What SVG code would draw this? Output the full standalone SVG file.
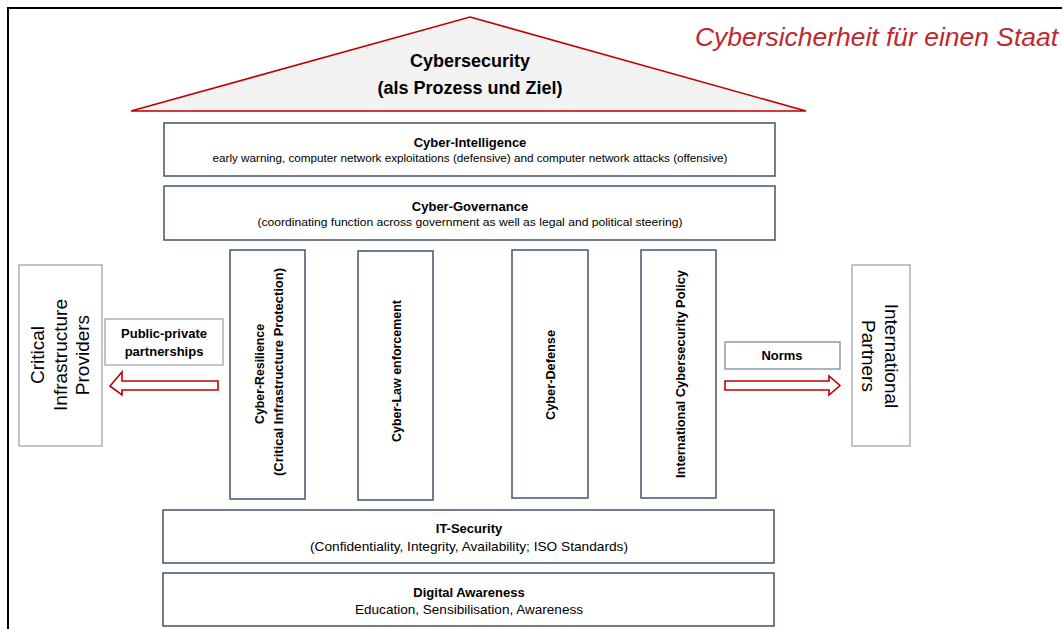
<svg xmlns="http://www.w3.org/2000/svg" width="1062" height="629" viewBox="0 0 1062 629">
<style>
text{font-family:"Liberation Sans",Arial,sans-serif;fill:#000}
.box{fill:#fff;stroke:#44546a;stroke-width:1.5}
.lbox{fill:#fff;stroke:#9ea6b0;stroke-width:1.3}
.h{font-weight:bold;font-size:13px;text-anchor:middle}
.s{font-size:11.5px;text-anchor:middle}
.s13{font-size:13px;text-anchor:middle}
.p{font-weight:bold;font-size:13px;text-anchor:middle}
.big{font-size:19px;text-anchor:middle}
.arrow{fill:#fff;stroke:#c00000;stroke-width:1.6}
</style>
<rect width="1062" height="629" fill="#fff"/>
<path d="M8 629 V8 H1062" fill="none" stroke="#000" stroke-width="2"/>
<text x="695" y="46" font-size="26" font-style="italic" fill="#c0282d" style="fill:#c0282d" textLength="363" lengthAdjust="spacingAndGlyphs">Cybersicherheit für einen Staat</text>

<g id="roof">
<polygon points="470,17 806,111 131,111" fill="#f2f2f2" stroke="#c00000" stroke-width="1.6"/>
<text x="470" y="67" font-size="18" font-weight="bold" text-anchor="middle">Cybersecurity</text>
<text x="470" y="94" font-size="18" font-weight="bold" text-anchor="middle">(als Prozess und Ziel)</text>
</g>

<g id="cyber-intelligence">
<rect class="box" x="164" y="123" width="611" height="53"/>
<text class="h" x="470" y="147">Cyber-Intelligence</text>
<text class="s" x="470" y="162" textLength="515" lengthAdjust="spacingAndGlyphs">early warning, computer network exploitations (defensive) and computer network attacks (offensive)</text>
</g>

<g id="cyber-governance">
<rect class="box" x="164" y="186" width="611" height="54"/>
<text class="h" x="470" y="211">Cyber-Governance</text>
<text class="s" x="470" y="226" textLength="425" lengthAdjust="spacingAndGlyphs">(coordinating function across government as well as legal and political steering)</text>
</g>

<g id="cyber-resilience">
<rect class="box" x="230" y="250" width="75" height="249"/>
<text class="p" transform="translate(264,374) rotate(-90)" textLength="100" lengthAdjust="spacingAndGlyphs">Cyber-Resilience</text>
<text class="p" transform="translate(283,372) rotate(-90)" textLength="208" lengthAdjust="spacingAndGlyphs">(Critical Infrastructure Protection)</text>
</g>

<g id="cyber-law">
<rect class="box" x="358" y="251" width="75" height="249"/>
<text class="p" transform="translate(401,371) rotate(-90)" textLength="142" lengthAdjust="spacingAndGlyphs">Cyber-Law enforcement</text>
</g>

<g id="cyber-defense">
<rect class="box" x="512" y="250" width="76" height="248"/>
<text class="p" transform="translate(555,375) rotate(-90)" textLength="90" lengthAdjust="spacingAndGlyphs">Cyber-Defense</text>
</g>

<g id="intl-policy">
<rect class="box" x="641" y="250" width="75" height="248"/>
<text class="p" transform="translate(685,374) rotate(-90)" textLength="208" lengthAdjust="spacingAndGlyphs">International Cybersecurity Policy</text>
</g>

<g id="it-security">
<rect class="box" x="163" y="510" width="611" height="53"/>
<text class="h" x="469" y="533">IT-Security</text>
<text class="s13" x="469" y="551" textLength="318" lengthAdjust="spacingAndGlyphs">(Confidentiality, Integrity, Availability; ISO Standards)</text>
</g>

<g id="digital-awareness">
<rect class="box" x="163" y="573" width="611" height="53"/>
<text class="h" x="469" y="597">Digital Awareness</text>
<text class="s13" x="469" y="614" textLength="228" lengthAdjust="spacingAndGlyphs">Education, Sensibilisation, Awareness</text>
</g>

<g id="critical-infrastructure-providers">
<rect class="lbox" x="19" y="265" width="83" height="181"/>
<text class="big" transform="translate(44,355) rotate(-90)">Critical</text>
<text class="big" transform="translate(67,355) rotate(-90)">Infrastructure</text>
<text class="big" transform="translate(89,355) rotate(-90)">Providers</text>
</g>

<g id="international-partners">
<rect class="lbox" x="852" y="265" width="58" height="181"/>
<text class="big" transform="translate(885,356) rotate(90)">International</text>
<text class="big" transform="translate(862,356) rotate(90)">Partners</text>
</g>

<g id="ppp-label">
<rect class="lbox" x="105" y="319" width="118" height="46"/>
<text class="p" x="164" y="338">Public-private</text>
<text class="p" x="164" y="356">partnerships</text>
</g>

<g id="norms-label">
<rect class="lbox" x="725" y="342" width="115" height="27" style="stroke:#7f8a96"/>
<text class="p" x="782" y="360">Norms</text>
</g>

<g id="connectors">
<polygon class="arrow" points="218,381 122,381 122,372 110,386 122,395 122,390 218,390"/>
<polygon class="arrow" points="725,381 829,381 829,376 840,385.5 829,395 829,390 725,390"/>
</g>
</svg>
